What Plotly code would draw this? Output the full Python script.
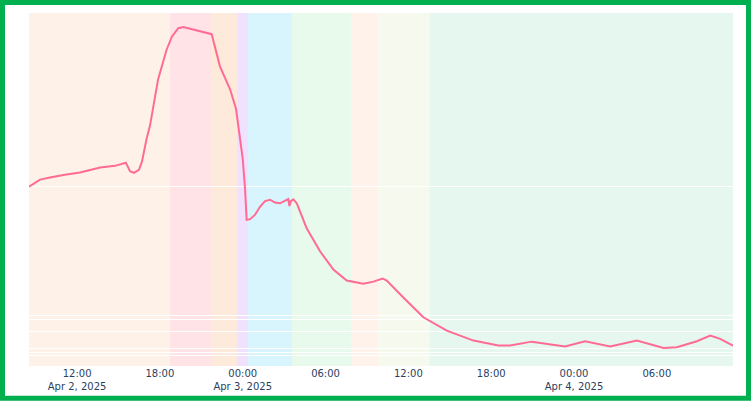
import plotly.graph_objects as go

# measured series
times = [
    "2025-04-02 08:31", "2025-04-02 09:19", "2025-04-02 10:02", "2025-04-02 11:07",
    "2025-04-02 12:13", "2025-04-02 13:40", "2025-04-02 14:45", "2025-04-02 15:32",
    "2025-04-02 15:50", "2025-04-02 16:07", "2025-04-02 16:29", "2025-04-02 16:42",
    "2025-04-02 17:02", "2025-04-02 17:17", "2025-04-02 17:52", "2025-04-02 18:29",
    "2025-04-02 18:52", "2025-04-02 19:20", "2025-04-02 19:42", "2025-04-02 21:45",
    "2025-04-02 22:21", "2025-04-02 23:05", "2025-04-02 23:31", "2025-04-02 23:41",
    "2025-04-02 23:48", "2025-04-03 00:00", "2025-04-03 00:10", "2025-04-03 00:17",
    "2025-04-03 00:32", "2025-04-03 00:53", "2025-04-03 01:15", "2025-04-03 01:37",
    "2025-04-03 01:59", "2025-04-03 02:20", "2025-04-03 02:42", "2025-04-03 03:04",
    "2025-04-03 03:18", "2025-04-03 03:23", "2025-04-03 03:29", "2025-04-03 03:40",
    "2025-04-03 03:55", "2025-04-03 04:38", "2025-04-03 05:36", "2025-04-03 06:34",
    "2025-04-03 07:32", "2025-04-03 08:44", "2025-04-03 09:28", "2025-04-03 10:08",
    "2025-04-03 10:26", "2025-04-03 11:38", "2025-04-03 13:05", "2025-04-03 14:47",
    "2025-04-03 16:43", "2025-04-03 18:31", "2025-04-03 19:22", "2025-04-03 20:56",
    "2025-04-03 22:02", "2025-04-03 23:21", "2025-04-04 00:48", "2025-04-04 02:37",
    "2025-04-04 04:33", "2025-04-04 06:29", "2025-04-04 07:27", "2025-04-04 08:54",
    "2025-04-04 09:52", "2025-04-04 10:35", "2025-04-04 11:31",
]
values = [
    50.8, 52.8, 53.4, 54.2, 54.8, 56.2, 56.7, 57.6,
    55.2, 54.7, 55.6, 57.9, 64.3, 68.1, 81.2, 89.6,
    93.3, 95.7, 96.0, 94.0, 84.9, 78.4, 72.8, 68.1,
    64.3, 58.7, 50.3, 41.4, 41.6, 42.8, 45.1, 46.7,
    47.1, 46.3, 46.1, 46.7, 47.3, 45.3, 46.7, 47.2,
    46.1, 39.0, 32.5, 27.3, 24.2, 23.3, 23.9, 24.8,
    24.2, 19.4, 13.8, 10.0, 7.2, 5.8, 5.8, 6.9,
    6.3, 5.5, 7.0, 5.5, 7.2, 5.1, 5.3, 7.0,
    8.6, 7.7, 5.8,
]

# background phases
band_edges = [
    "2025-04-02 08:31", "2025-04-02 18:44", "2025-04-02 21:42", "2025-04-02 23:35",
    "2025-04-03 00:23", "2025-04-03 03:34", "2025-04-03 07:51", "2025-04-03 09:50",
    "2025-04-03 13:31", "2025-04-04 11:31",
]
band_colors = [
    "#FEF2E8", "#FFE3E6", "#FEEADB", "#F0E1FE", "#D8F5FD",
    "#E8FAEC", "#FEF2EA", "#F6F9EE", "#E6F7F0",
]

grid_values = [50.8, 14.2, 13.2, 9.8, 5.1, 3.9, 2.9]

fig = go.Figure()
fig.add_trace(
    go.Scatter(
        x=times,
        y=values,
        mode="lines",
        line=dict(color="#FF6B93", width=2),
        showlegend=False,
    )
)

for i, c in enumerate(band_colors):
    fig.add_vrect(
        x0=band_edges[i], x1=band_edges[i + 1],
        fillcolor=c, opacity=1, line_width=0, layer="below",
    )

# green frame around the figure
fig.add_shape(
    type="rect", xref="paper", yref="paper",
    x0=(2.5 - 29) / 704, x1=(748.5 - 29) / 704,
    y0=(369 - 401.5) / 356, y1=(369 - 2.5) / 356,
    line=dict(color="#00B050", width=5),
)

fig.update_xaxes(
    range=[band_edges[0], band_edges[-1]],
    showgrid=False, zeroline=False,
    tickfont=dict(size=10, color="#2a3f5f"),
)
fig.update_yaxes(
    range=[0, 100],
    tickvals=grid_values,
    showticklabels=False,
    showgrid=True, gridcolor="white", gridwidth=1,
    zeroline=False,
)
fig.update_layout(
    width=751,
    height=404,
    margin=dict(l=29, r=18, t=13, b=35),
    plot_bgcolor="white",
    paper_bgcolor="white",
    font=dict(family="Verdana, DejaVu Sans, sans-serif"),
)

fig.write_html(
    "out.html",
    config={"displayModeBar": False},
    post_script="document.body.style.margin = '0';",
)
